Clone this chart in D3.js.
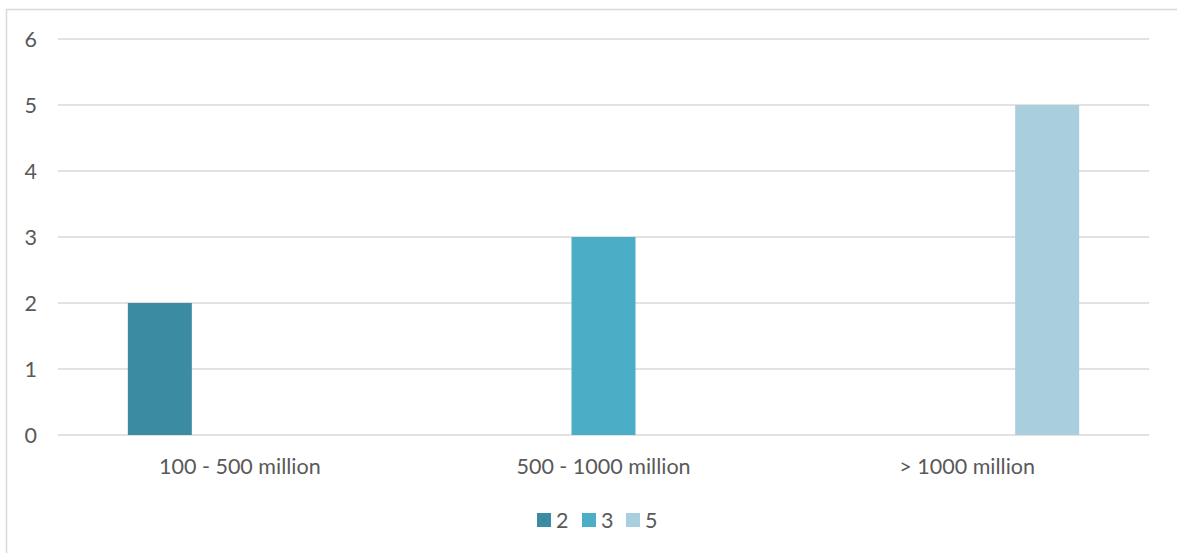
<!DOCTYPE html>
<html>
<head>
<meta charset="utf-8">
<script src="https://cdn.jsdelivr.net/npm/d3@7"></script>
<style>
  html, body { margin: 0; padding: 0; background: #fff; }
  svg text { font-family: Lato, "Open Sans", sans-serif; fill: #595959; }
</style>
</head>
<body>
<svg id="chart" width="1177" height="553"></svg>
<script>
// Company revenue bands and the number of companies in each
const categories = ["100 - 500 million", "500 - 1000 million", "> 1000 million"];
const seriesNames = ["2", "3", "5"];
// one series per band; the other bands are empty for that series
const seriesValues = [
  [2, null, null],
  [null, 3, null],
  [null, null, 5]
];
const yTicks = [0, 1, 2, 3, 4, 5, 6];
const colors = ["#3B8BA2", "#4BADC6", "#A9CEDD"];

const svg = d3.select("#chart");
const W = 1177, H = 553;
const plot = { left: 58, right: 1149, top: 39, bottom: 435 };
const fontSize = 21.5;

// chart frame (runs off the right and bottom edges)
svg.append("path")
  .attr("d", `M6.5,${H + 5}V9.5H${W + 5}`)
  .attr("fill", "none")
  .attr("stroke", "#D9D9D9")
  .attr("stroke-width", 1.5);

const x = d3.scaleBand().domain(categories).range([plot.left, plot.right]).padding(0);
const y = d3.scaleLinear().domain([0, 6]).range([plot.bottom, plot.top]);

// bars within a category: 64px wide, 80px pitch between series slots
const barW = 64, pitch = 80;
const inner = d3.scalePoint().domain(seriesNames).range([-pitch, pitch]);

// gridlines
svg.append("g")
  .selectAll("line")
  .data(yTicks)
  .join("line")
  .attr("x1", plot.left).attr("x2", plot.right)
  .attr("y1", d => y(d)).attr("y2", d => y(d))
  .attr("stroke", "#D9D9D9")
  .attr("stroke-width", 1.5);

// y axis labels
const yAxis = d3.axisLeft(y).tickValues(yTicks).tickFormat(d3.format("d")).tickSize(0).tickPadding(0);
const gy = svg.append("g").attr("transform", "translate(37,0)").call(yAxis);
gy.select(".domain").remove();
gy.selectAll("text").attr("font-size", fontSize).attr("fill", "#595959")
  .style("font-family", "Lato, sans-serif").attr("dy", "0.35em");

// bars
seriesNames.forEach((s, si) => {
  const data = categories.map((c, ci) => ({ c, v: seriesValues[si][ci] })).filter(d => d.v != null);
  svg.append("g").selectAll("rect")
    .data(data)
    .join("rect")
    .attr("x", d => x(d.c) + x.bandwidth() / 2 + inner(s) - barW / 2)
    .attr("width", barW)
    .attr("y", d => y(d.v))
    .attr("height", d => y(0) - y(d.v))
    .attr("fill", colors[si]);
});

// x axis labels
const xAxis = d3.axisBottom(x).tickSize(0).tickPadding(0);
const gx = svg.append("g").attr("transform", `translate(0,${plot.bottom})`).call(xAxis);
gx.select(".domain").remove();
gx.selectAll("text").attr("font-size", fontSize).attr("fill", "#595959")
  .style("font-family", "Lato, sans-serif").attr("y", 39).attr("dy", 0);

// legend
const legend = svg.append("g").attr("transform", "translate(0,520)");
const legendX = [537, 582, 626];
seriesNames.forEach((s, i) => {
  const g = legend.append("g").attr("transform", `translate(${legendX[i]},0)`);
  g.append("rect").attr("x", 0).attr("y", -7).attr("width", 14).attr("height", 14).attr("fill", colors[i]);
  g.append("text").attr("x", 19).attr("y", 0).attr("dy", "0.36em")
    .attr("font-size", fontSize).text(s);
});
</script>
</body>
</html>
